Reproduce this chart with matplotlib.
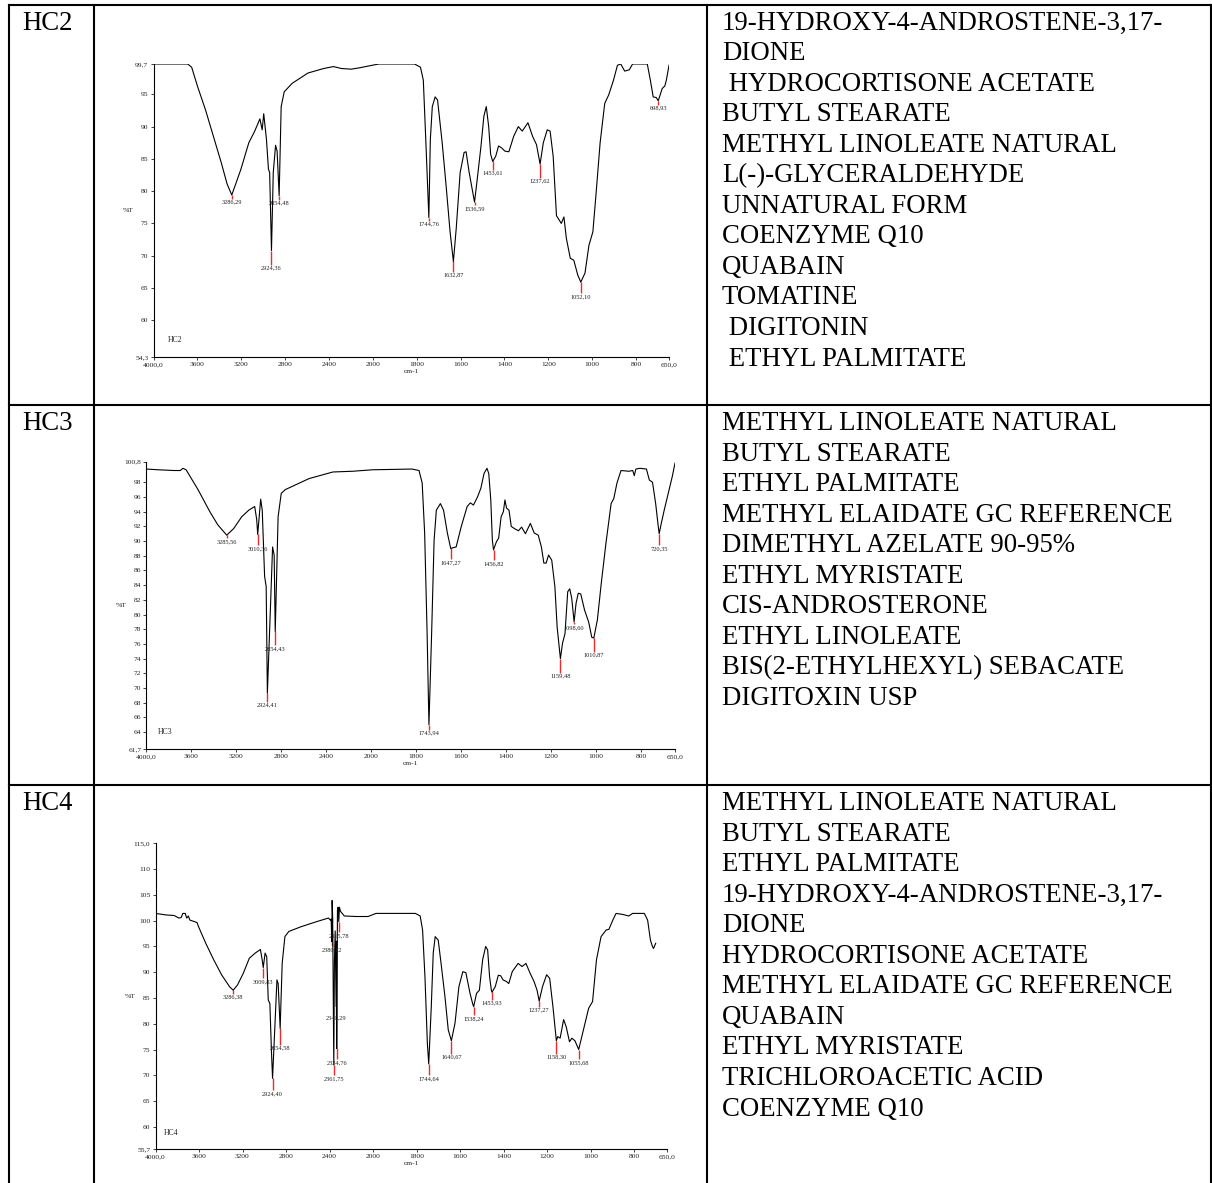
import numpy as np
import matplotlib
matplotlib.use("Agg")
import matplotlib.pyplot as plt

plt.rcParams["font.family"] = ["Liberation Serif", "DejaVu Serif"]

# ---------------------------------------------------------------- data
sample_names = ["HC2", "HC3", "HC4"]

hc2_wn = [4000, 3688, 3652, 3598, 3526, 3454, 3382, 3329, 3286.29, 3257, 3203, 3131, 3077, 3030,
          3009, 2995, 2970, 2952, 2941, 2924.36, 2908, 2887, 2873, 2854.48, 2836, 2808, 2736, 2592,
          2449, 2359, 2287, 2197, 2126, 1973, 1810, 1783, 1770, 1760, 1744.76, 1738, 1729, 1716,
          1705, 1684, 1666, 1648, 1632.87, 1620, 1602, 1584, 1575, 1561, 1536.59, 1525, 1507, 1494,
          1483, 1472, 1463, 1453.61, 1440, 1427, 1413, 1398, 1380, 1358, 1337, 1319, 1293, 1272,
          1254, 1237.62, 1223, 1205, 1192, 1178, 1163, 1141, 1129, 1118, 1100, 1084, 1066, 1052.10,
          1033, 1015, 997, 982, 964, 943, 925, 903, 885, 870, 852, 831, 816, 749, 735, 722, 708,
          698.93, 681, 669, 662, 650]
hc2_t = [99.7, 99.7, 99.2, 96.2, 92.6, 88.5, 84.4, 81.1, 79.4, 80.8, 83.4, 87.5, 89.3, 91.2,
         89.5, 92.0, 88.0, 83.4, 82.9, 70.8, 82.9, 87.1, 86.2, 79.3, 93.1, 95.4, 96.7, 98.3,
         99.0, 99.3, 99.0, 98.9, 99.1, 99.7, 99.7, 99.2, 97.2, 89.0, 75.9, 88.0, 93.1, 94.6,
         94.1, 87.5, 80.8, 73.7, 69.1, 74.2, 82.9, 86.0, 86.1, 82.9, 78.3, 81.6, 87.0, 91.6,
         93.1, 90.0, 85.7, 84.6, 85.4, 87.0, 86.7, 86.2, 86.1, 88.5, 90.0, 89.3, 90.6, 88.5,
         87.2, 84.2, 87.5, 89.5, 89.3, 85.4, 76.2, 75.0, 76.0, 72.7, 69.6, 69.3, 67.0, 65.9,
         67.3, 71.6, 73.7, 79.8, 87.5, 93.6, 94.9, 97.2, 99.5, 99.7, 98.6, 98.8, 99.7, 99.7, 97.2,
         94.6, 94.5, 94.0, 95.9, 96.3, 97.2, 99.5]
hc2_peak_wn = [3286.29, 2924.36, 2854.48, 1744.76, 1632.87, 1536.59, 1453.61, 1237.62, 1052.10, 698.93]
hc2_peak_t = [79.4, 70.8, 79.3, 75.9, 69.1, 78.3, 84.6, 84.2, 65.9, 94.0]
hc2_mark_end = [78.8, 68.6, 78.7, 75.4, 67.5, 77.8, 83.3, 82.1, 64.2, 93.4]

hc3_wn = [4000, 3894, 3753, 3700, 3675, 3647, 3541, 3436, 3365, 3285.56, 3224, 3153, 3090, 3037,
          3019, 3010.36, 2984, 2970, 2949, 2935, 2924.41, 2900, 2878, 2864, 2854.43, 2829, 2801,
          2765, 2695, 2554, 2413, 2342, 2166, 1995, 1819, 1788, 1774, 1763, 1752, 1743.94, 1732,
          1721, 1711, 1693, 1679, 1662, 1647.27, 1623, 1600, 1574, 1560, 1546, 1528, 1513, 1499,
          1486, 1478, 1469, 1462, 1456.82, 1444, 1434, 1423, 1413, 1406, 1399, 1388, 1378, 1364,
          1346, 1332, 1315, 1293, 1276, 1258, 1244, 1233, 1223, 1212, 1198, 1184, 1174, 1159.48,
          1150, 1139, 1127, 1118, 1109, 1098.60, 1090, 1080, 1069, 1052, 1034, 1020, 1010.87, 995,
          978, 957, 934, 922, 908, 890, 855, 838, 831, 824, 806, 777, 764, 750, 736, 726, 720.35,
          711, 698, 680, 662, 650]
hc3_t = [99.8, 99.7, 99.6, 99.6, 99.9, 99.7, 97.0, 94.0, 92.2, 90.8, 91.7, 93.3, 94.2, 94.7,
         92.9, 90.9, 95.7, 94.2, 85.2, 83.8, 69.3, 79.7, 89.2, 88.1, 77.7, 93.3, 96.5,
         97.0, 97.5, 98.5, 99.1, 99.4, 99.5, 99.7, 99.8, 99.6, 97.9, 91.1, 77.4, 65.0, 77.4,
         90.1, 94.2, 95.1, 94.2, 91.1, 89.0, 89.2, 92.0, 94.7, 95.2, 94.9, 96.0, 97.2, 99.2,
         99.9, 99.2, 95.6, 90.1, 88.8, 89.9, 90.4, 93.3, 94.0, 95.6, 94.5, 94.2, 92.0, 91.7,
         91.4, 91.9, 91.0, 92.4, 91.1, 90.8, 89.2, 87.0, 87.0, 88.1, 87.4, 83.8, 78.3, 74.0,
         76.1, 77.4, 83.1, 83.5, 82.2, 79.0, 81.5, 82.9, 82.8, 80.6, 79.0, 76.9, 76.8, 79.3,
         84.2, 89.7, 95.1, 95.8, 97.9, 99.6, 99.5, 99.6, 98.9, 99.8, 99.9, 99.8, 98.3, 98.0, 95.1, 92.4, 91.0,
         92.4, 94.2, 96.5, 98.8, 100.6]
hc3_peak_wn = [3285.56, 3010.36, 2924.41, 2854.43, 1743.94, 1647.27, 1456.82, 1159.48, 1098.60, 1010.87, 720.35]
hc3_peak_t = [90.8, 90.9, 69.3, 77.7, 65.0, 89.0, 88.8, 74.0, 79.0, 76.8, 91.0]
hc3_mark_end = [90.4, 89.4, 68.1, 75.8, 64.3, 87.5, 87.4, 72.1, 78.7, 74.9, 89.4]

hc4_wn = [4000, 3902, 3829, 3785, 3764, 3749, 3727, 3713, 3698, 3684, 3640, 3618, 3604, 3538,
          3465, 3393, 3320, 3286.38, 3247, 3193, 3138, 3084, 3036, 3022, 3009.83, 2993, 2978, 2964,
          2949, 2935, 2924.40, 2902, 2884, 2873, 2854.58, 2836, 2811, 2775, 2665, 2520, 2411, 2393,
          2386, 2380.12, 2377, 2372, 2361.75, 2356, 2349, 2340.29, 2337, 2334.76, 2328, 2322,
          2315.78, 2310, 2300, 2265, 2156, 2047, 1987, 1806, 1784, 1773, 1762, 1751, 1744.64, 1733,
          1724, 1715, 1701, 1688, 1670, 1655, 1640.67, 1624, 1606, 1588, 1574, 1555, 1543, 1538.24,
          1525, 1512, 1497, 1483, 1474, 1465, 1457, 1453.93, 1439, 1425, 1414, 1403, 1388, 1377,
          1361, 1334, 1316, 1298, 1279, 1261, 1247, 1237.27, 1222, 1203, 1189, 1174, 1158.30, 1152,
          1141, 1125, 1113, 1098, 1087, 1073, 1055.68, 1034, 1010, 992, 974, 953, 929, 917, 899,
          884, 853, 826, 808, 754, 739, 726, 717, 712, 702]
hc4_t = [101.4, 101.1, 101.0, 100.5, 100.6, 101.4, 101.4, 100.5, 100.9, 100.1, 99.8, 99.6, 98.8, 95.6,
         92.4, 89.5, 87.2, 86.5, 87.5, 89.8, 92.7, 93.7, 94.4, 92.7, 90.9, 93.7, 93.0, 84.6,
         83.9, 74.9, 69.4, 80.1, 88.5, 87.8, 79.1, 91.7, 96.9, 97.9, 98.8, 99.8, 100.5, 100.1,
         100.3, 95.9, 103.9, 100.5, 72.0, 92.0, 98.0, 83.3, 96.0, 75.2, 102.0, 102.6,
         99.8, 102.6, 101.8, 100.9, 100.8, 100.8, 101.4, 101.4, 100.9, 98.2, 89.1, 76.2, 72.2, 83.3,
         93.7, 96.9, 96.2, 91.7, 85.2, 78.8, 76.7, 80.1, 87.2, 90.1, 89.9, 85.9, 83.9, 83.3,
         85.9, 86.5, 92.4, 95.0, 94.3, 89.1, 86.5, 86.1, 87.2, 89.4, 89.3, 88.5, 88.2, 87.8,
         90.1, 91.7, 91.1, 91.7, 89.8, 88.2, 86.5, 84.4, 87.2, 89.5, 88.8, 83.3, 76.7, 77.5,
         77.2, 80.8, 79.4, 76.5, 77.2, 76.7, 75.0, 78.8, 83.0, 84.3, 92.4, 96.9, 98.2, 98.3, 100.1,
         101.4, 101.2, 100.9, 101.4, 101.4, 100.1, 96.2, 95.0, 94.6, 95.6]
hc4_peak_wn = [3286.38, 3009.83, 2924.40, 2854.58, 2380.12, 2361.75, 2340.29, 2334.76, 2315.78,
               1744.64, 1640.67, 1538.24, 1453.93, 1237.27, 1158.30, 1055.68]
hc4_peak_t = [86.5, 90.9, 69.4, 79.1, 95.9, 72.0, 83.3, 75.2, 99.8, 72.2, 76.7, 83.3, 86.1, 84.4, 76.7, 75.0]
hc4_mark_end = [85.8, 88.8, 67.1, 75.9, 95.0, 70.0, 81.7, 73.1, 97.7, 70.0, 74.2, 81.6, 84.6, 83.3, 74.2, 73.1]

x_ticks = [4000, 3600, 3200, 2800, 2400, 2000, 1800, 1600, 1400, 1200, 1000, 800, 650]
x_tick_labels = ["4000,0", "3600", "3200", "2800", "2400", "2000", "1800", "1600", "1400",
                 "1200", "1000", "800", "650,0"]

hc2_y_ticks = [99.7, 95, 90, 85, 80, 75, 70, 65, 60, 54.3]
hc2_y_labels = ["99,7", "95", "90", "85", "80", "75", "70", "65", "60", "54,3"]
hc3_y_ticks = [100.8, 98, 96, 94, 92, 90, 88, 86, 84, 82, 80, 78, 76, 74, 72, 70, 68, 66, 64, 61.7]
hc3_y_labels = ["100,8", "98", "96", "94", "92", "90", "88", "86", "84", "82", "80", "78", "76",
                "74", "72", "70", "68", "66", "64", "61,7"]
hc4_y_ticks = [115.0, 110, 105, 100, 95, 90, 85, 80, 75, 70, 65, 60, 55.7]
hc4_y_labels = ["115,0", "110", "105", "100", "95", "90", "85", "80", "75", "70", "65", "60", "55,7"]

hc2_compounds = ["19-HYDROXY-4-ANDROSTENE-3,17-", "DIONE", " HYDROCORTISONE ACETATE",
                 "BUTYL STEARATE", "METHYL LINOLEATE NATURAL", "L(-)-GLYCERALDEHYDE",
                 "UNNATURAL FORM", "COENZYME Q10", "QUABAIN", "TOMATINE", " DIGITONIN",
                 " ETHYL PALMITATE"]
hc3_compounds = ["METHYL LINOLEATE NATURAL", "BUTYL STEARATE", "ETHYL PALMITATE",
                 "METHYL ELAIDATE GC REFERENCE", "DIMETHYL AZELATE 90-95%", "ETHYL MYRISTATE",
                 "CIS-ANDROSTERONE", "ETHYL LINOLEATE", "BIS(2-ETHYLHEXYL) SEBACATE",
                 "DIGITOXIN USP"]
hc4_compounds = ["METHYL LINOLEATE NATURAL", "BUTYL STEARATE", "ETHYL PALMITATE",
                 "19-HYDROXY-4-ANDROSTENE-3,17-", "DIONE", "HYDROCORTISONE ACETATE",
                 "METHYL ELAIDATE GC REFERENCE", "QUABAIN", "ETHYL MYRISTATE",
                 "TRICHLOROACETIC ACID", "COENZYME Q10"]

# ---------------------------------------------------------------- layout
W, H = 1212, 1183
fig = plt.figure(figsize=(W / 100, H / 100), dpi=100)
fig.patch.set_facecolor("white")

bg = fig.add_axes([0, 0, 1, 1], zorder=0)
bg.set_xlim(0, W)
bg.set_ylim(H, 0)
bg.axis("off")

# table grid
grid_kw = dict(color="black", lw=1.5, solid_capstyle="projecting")
col_x = [8.5, 94, 707, 1211]
row_y = [4.5, 405, 785]
for x in col_x:
    bg.plot([x, x], [row_y[0], H + 5], **grid_kw)
for y in row_y:
    bg.plot([col_x[0], col_x[-1]], [y, y], **grid_kw)

text_size = 19.3
line_step = 30.55
for name, comps, top in zip(sample_names, [hc2_compounds, hc3_compounds, hc4_compounds], row_y):
    base = top + 25
    bg.text(22, base, name, fontsize=text_size, va="baseline", ha="left")
    for i, c in enumerate(comps):
        bg.text(722, base + i * line_step, c, fontsize=text_size, va="baseline", ha="left")


def fwd(x):
    x = np.asarray(x, dtype=float)
    return np.where(x < 2000, x, 2000 + (x - 2000) / 2.0)


def inv(y):
    y = np.asarray(y, dtype=float)
    return np.where(y < 2000, y, 2000 + (y - 2000) * 2.0)


def spectrum(rect, wn, t, ylim, yticks, ylabels, pk_wn, pk_t, pk_end, name, name_pos):
    ax = fig.add_axes(rect, zorder=2)
    ax.patch.set_alpha(0)
    ax.set_xscale("function", functions=(fwd, inv))
    ax.plot(wn, t, color="black", lw=0.8, zorder=3)
    for w, t0, t1 in zip(pk_wn, pk_t, pk_end):
        ax.plot([w, w], [t0, t1], color="#ee2a2a", lw=1.0, zorder=2, solid_capstyle="butt")
        ax.annotate(f"{w:.2f}".replace(".", ","), (w, t1), xytext=(0, -0.6),
                    textcoords="offset points", ha="center", va="top", fontsize=4.6,
                    color="#222222")
    ax.set_xlim(4000, 650)
    ax.set_ylim(*ylim)
    ax.set_xticks(x_ticks)
    ax.set_xticklabels(x_tick_labels)
    ax.set_yticks(yticks)
    ax.set_yticklabels(ylabels)
    ax.minorticks_off()
    ax.tick_params(direction="out", length=2.2, width=0.6, pad=1.5, labelsize=5.4,
                   colors="#222222")
    for s in ("top", "right"):
        ax.spines[s].set_visible(False)
    for s in ("left", "bottom"):
        ax.spines[s].set_linewidth(0.8)
    ax.set_xlabel("cm-1", fontsize=5.4, labelpad=1.5, color="#222222")
    ax.annotate("%T", (0, 0.5), xycoords="axes fraction", xytext=(-18, 0),
                textcoords="offset points", ha="center", va="center", fontsize=5.4,
                color="#222222")
    ax.text(name_pos[0], name_pos[1], name, transform=ax.transAxes, fontsize=5.6,
            ha="left", va="center", color="#222222")
    return ax


def rect(x0, x1, y0, y1):
    return [x0 / W, 1 - y1 / H, (x1 - x0) / W, (y1 - y0) / H]


spectrum(rect(153.5, 669, 64, 357), hc2_wn, hc2_t, (54.3, 99.7), hc2_y_ticks, hc2_y_labels,
         hc2_peak_wn, hc2_peak_t, hc2_mark_end, sample_names[0], (0.028, 0.058))
spectrum(rect(146.4, 675, 461.7, 749), hc3_wn, hc3_t, (61.7, 100.8), hc3_y_ticks, hc3_y_labels,
         hc3_peak_wn, hc3_peak_t, hc3_mark_end, sample_names[1], (0.021, 0.060))
spectrum(rect(155.5, 667, 843.3, 1149), hc4_wn, hc4_t, (55.7, 115.0), hc4_y_ticks, hc4_y_labels,
         hc4_peak_wn, hc4_peak_t, hc4_mark_end, sample_names[2], (0.0155, 0.053))

fig.savefig("out.png", dpi=100, facecolor="white")
